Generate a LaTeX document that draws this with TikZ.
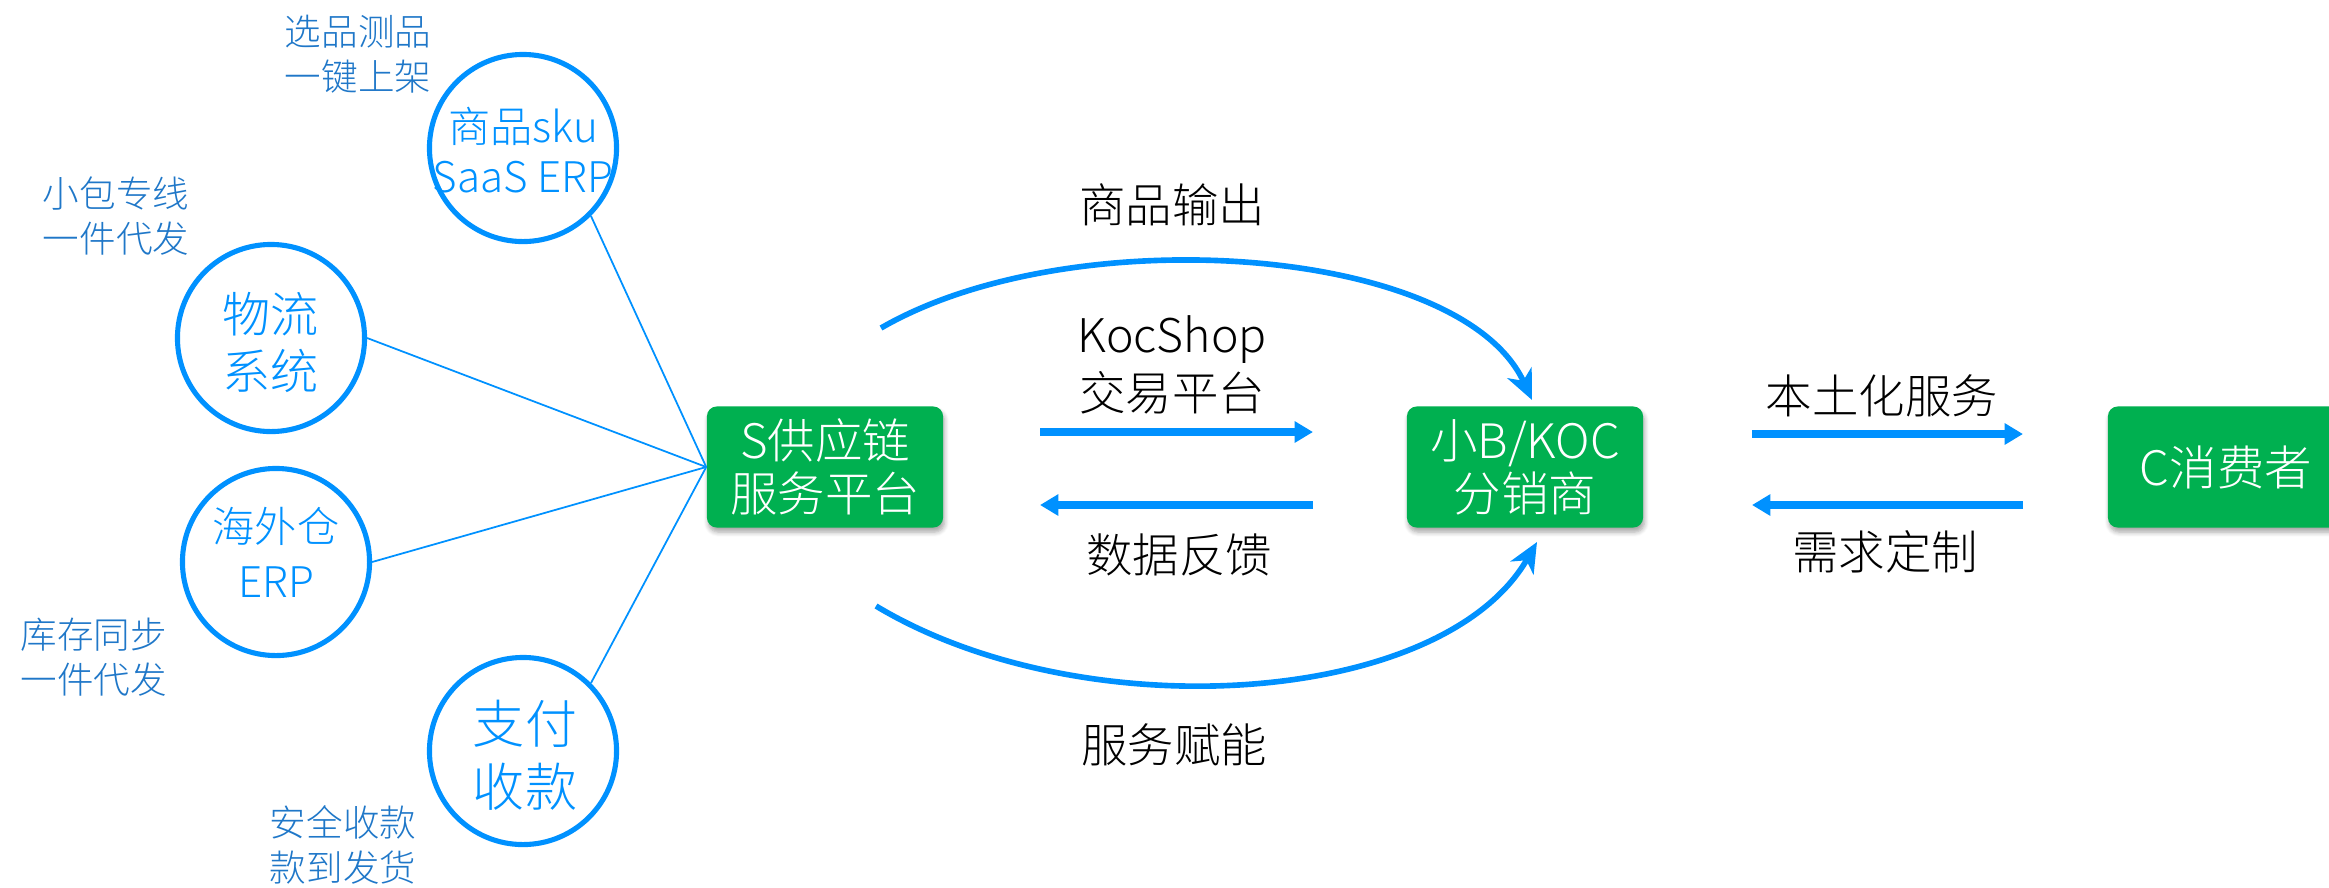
\documentclass[tikz,border=0pt]{standalone}
\usepackage{fontspec}
\setmainfont{Noto Sans CJK SC}[UprightFont=* Light]
\usetikzlibrary{arrows.meta,shadows.blur}
\definecolor{cblue}{RGB}{0,145,255}
\definecolor{lblue}{RGB}{31,119,200}
\definecolor{bgreen}{RGB}{0,176,80}
\begin{document}
\begin{tikzpicture}[x=0.01cm,y=-0.01cm,
  ring/.style={circle,draw=cblue,line width=1.45pt,minimum size=1.87cm,inner sep=0pt},
  ringtext/.style={text=cblue,align=center,inner sep=0pt},
  note/.style={text=lblue,align=center,inner sep=0pt,font=\fontsize{10.4pt}{12.8pt}\selectfont},
  gbox/.style={fill=bgreen,rounded corners=2.8pt,minimum width=2.36cm,minimum height=1.21cm,
    text=white,align=center,inner sep=0pt,font=\fontsize{13.5pt}{15pt}\selectfont,
    blur shadow={shadow blur steps=6,shadow xshift=0.4pt,shadow yshift=-1.3pt,shadow blur radius=1.3pt,shadow opacity=35}},
  hflow/.style={draw=cblue,line width=2pt,-{Triangle[length=5.2pt,width=5.8pt]}},
  curvearrow/.style={draw=cblue,line width=1.6pt,-{Stealth[length=8.5pt,width=7.5pt,inset=2.5pt]}},
  spoke/.style={draw=cblue,line width=0.5pt},
  lab/.style={text=black,align=center,inner sep=0pt,font=\fontsize{13.2pt}{16.5pt}\selectfont}]
\useasboundingbox (0,0) rectangle (2329,887);
\clip (0,0) rectangle (2329,887);
% circles
\node[ring] (c1) at (523,148) {};
\node[ring] (c2) at (271,338) {};
\node[ring] (c3) at (276,562) {};
\node[ring] (c4) at (523,751) {};
\node[ringtext,font=\fontsize{12pt}{14.2pt}\selectfont] (t1) at (523,150) {商品sku\\SaaS ERP};
\node[ringtext,font=\fontsize{13.7pt}{16.2pt}\selectfont] (t2) at (271,342) {物流\\系统};
\node[ringtext,font=\fontsize{12pt}{15.6pt}\selectfont] (t3) at (276,552) {海外仓\\ERP};
\node[ringtext,font=\fontsize{14.8pt}{18pt}\selectfont] (t4) at (525,755) {支付\\收款};
% notes
\node[note] (n1) at (358,54) {选品测品\\一键上架};
\node[note] (n2) at (116,216) {小包专线\\一件代发};
\node[note] (n3) at (94,657) {库存同步\\一件代发};
\node[note] (n4) at (343,845) {安全收款\\款到发货};
% boxes
\node[gbox] (S) at (825,467) {S供应链\\服务平台};
\node[gbox] (B) at (1525,467) {小B/KOC\\分销商};
\node[gbox] (C) at (2226,467) {C消费者};
% spokes
\draw[spoke] (c1.south east) -- (S.west);
\draw[spoke] (c2.east) -- (S.west);
\draw[spoke] (c3.east) -- (S.west);
\draw[spoke] (c4.north east) -- (S.west);
% straight arrows
\coordinate (a1s) at (1040,432); \coordinate (a1e) at (1313,432);
\coordinate (a2s) at (1313,505); \coordinate (a2e) at (1040,505);
\coordinate (a3s) at (1752,434); \coordinate (a3e) at (2023,434);
\coordinate (a4s) at (2023,505); \coordinate (a4e) at (1752,505);
\draw[hflow] (a1s) -- (a1e);
\draw[hflow] (a2s) -- (a2e);
\draw[hflow] (a3s) -- (a3e);
\draw[hflow] (a4s) -- (a4e);
% curved arrows
\coordinate (u0) at (881,328); \coordinate (u1) at (1532,400);
\coordinate (d0) at (876,606); \coordinate (d1) at (1537,542);
\draw[curvearrow] (u0) .. controls (1071,218) and (1461,245) .. (u1);
\draw[curvearrow] (d0) .. controls (1082,730) and (1442,707) .. (d1);
% labels
\node[lab] (l1) at (1172,205) {商品输出};
\node[lab] (l2) at (1172,365) {KocShop\\交易平台};
\node[lab] (l3) at (1179,555) {数据反馈};
\node[lab] (l4) at (1174,745) {服务赋能};
\node[lab] (l5) at (1882,396) {本土化服务};
\node[lab] (l6) at (1885,552) {需求定制};
\end{tikzpicture}
\end{document}
